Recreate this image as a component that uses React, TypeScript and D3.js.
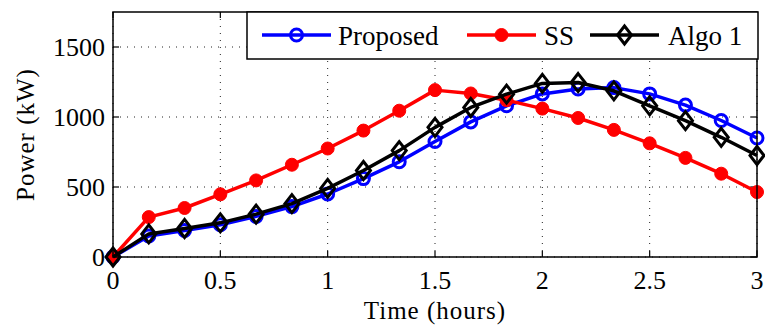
import { useEffect, useRef } from 'react';
import * as d3 from 'd3';

// time in hours, one sample every 10 minutes
const hours = [0, 1 / 6, 2 / 6, 3 / 6, 4 / 6, 5 / 6, 1, 7 / 6, 8 / 6, 9 / 6, 10 / 6, 11 / 6, 2, 13 / 6, 14 / 6, 15 / 6, 16 / 6, 17 / 6, 3];
const proposed = [0, 150, 190, 230, 290, 360, 450, 560, 680, 825, 965, 1080, 1165, 1200, 1210, 1165, 1085, 975, 850];
const ss = [0, 285, 350, 448, 547, 659, 775, 903, 1045, 1192, 1168, 1120, 1060, 993, 908, 812, 708, 595, 464];
const algo1 = [0, 165, 204, 244, 306, 381, 490, 618, 760, 926, 1068, 1163, 1240, 1246, 1187, 1080, 974, 855, 725];

const xTicks = [0, 0.5, 1, 1.5, 2, 2.5, 3];
const yTicks = [0, 500, 1000, 1500];

const FONT = '"Liberation Serif", "Times New Roman", serif';

export default function App() {
  const svgRef = useRef<SVGSVGElement>(null);
  const width = 765;
  const height = 325;

  useEffect(() => {
    if (!svgRef.current) return;
    const svg = d3.select(svgRef.current);
    svg.selectAll('*').remove();

    const margin = { top: 12, right: 8, bottom: 68, left: 113 };
    const innerWidth = width - margin.left - margin.right;
    const innerHeight = height - margin.top - margin.bottom;

    const g = svg.append('g').attr('transform', `translate(${margin.left},${margin.top})`);

    const x = d3.scaleLinear().domain([0, 3]).range([0, innerWidth]);
    const y = d3.scaleLinear().domain([0, 1750]).range([innerHeight, 0]);

    // grid
    xTicks.forEach(t => {
      g.append('line')
        .attr('x1', x(t)).attr('x2', x(t))
        .attr('y1', 0).attr('y2', innerHeight)
        .attr('stroke', '#222').attr('stroke-width', 1)
        .attr('stroke-dasharray', '1,6');
    });
    yTicks.forEach(t => {
      g.append('line')
        .attr('x1', 0).attr('x2', innerWidth)
        .attr('y1', y(t)).attr('y2', y(t))
        .attr('stroke', '#222').attr('stroke-width', 1)
        .attr('stroke-dasharray', '1,6');
    });

    // ticks (inside, on all four sides)
    const tl = 6;
    xTicks.forEach(t => {
      g.append('line').attr('x1', x(t)).attr('x2', x(t)).attr('y1', innerHeight).attr('y2', innerHeight - tl).attr('stroke', '#000').attr('stroke-width', 1.2);
      g.append('line').attr('x1', x(t)).attr('x2', x(t)).attr('y1', 0).attr('y2', tl).attr('stroke', '#000').attr('stroke-width', 1.2);
    });
    yTicks.forEach(t => {
      g.append('line').attr('x1', 0).attr('x2', tl).attr('y1', y(t)).attr('y2', y(t)).attr('stroke', '#000').attr('stroke-width', 1.2);
      g.append('line').attr('x1', innerWidth).attr('x2', innerWidth - tl).attr('y1', y(t)).attr('y2', y(t)).attr('stroke', '#000').attr('stroke-width', 1.2);
    });

    // tick labels
    g.selectAll('.xtl')
      .data(xTicks)
      .join('text')
      .attr('x', d => x(d))
      .attr('y', innerHeight + 32)
      .attr('text-anchor', 'middle')
      .attr('font-family', FONT)
      .attr('font-size', '26px')
      .attr('fill', '#000')
      .text(d => `${d}`);

    g.selectAll('.ytl')
      .data(yTicks)
      .join('text')
      .attr('x', -8)
      .attr('y', d => y(d) + 9)
      .attr('text-anchor', 'end')
      .attr('font-family', FONT)
      .attr('font-size', '26px')
      .attr('fill', '#000')
      .text(d => `${d}`);

    const series = [
      { name: 'Proposed', values: proposed, color: '#0000ff', marker: 'circle' },
      { name: 'SS', values: ss, color: '#ff0000', marker: 'dot' },
      { name: 'Algo 1', values: algo1, color: '#000000', marker: 'diamond' },
    ];

    const line = d3.line<number>()
      .x((_, i) => x(hours[i]))
      .y(d => y(d));

    const drawMarker = (sel: any, kind: string, color: string, cx: number, cy: number) => {
      if (kind === 'circle') {
        sel.append('circle').attr('cx', cx).attr('cy', cy).attr('r', 6)
          .attr('fill', 'none').attr('stroke', color).attr('stroke-width', 3);
      } else if (kind === 'dot') {
        sel.append('circle').attr('cx', cx).attr('cy', cy).attr('r', 6.5)
          .attr('fill', color).attr('stroke', color).attr('stroke-width', 1);
      } else {
        sel.append('path')
          .attr('d', `M${cx},${cy - 9}L${cx + 7},${cy}L${cx},${cy + 9}L${cx - 7},${cy}Z`)
          .attr('fill', 'none').attr('stroke', color).attr('stroke-width', 3);
      }
    };

    series.forEach(s => {
      const sg = g.append('g');
      sg.append('path')
        .datum(s.values)
        .attr('d', line)
        .attr('fill', 'none')
        .attr('stroke', s.color)
        .attr('stroke-width', 3.5)
        .attr('stroke-linejoin', 'round');
      s.values.forEach((v, i) => drawMarker(sg, s.marker, s.color, x(hours[i]), y(v)));
    });

    // axes box
    g.append('rect')
      .attr('x', 0).attr('y', 0)
      .attr('width', innerWidth).attr('height', innerHeight)
      .attr('fill', 'none').attr('stroke', '#000').attr('stroke-width', 1.5);

    // legend
    const lg = svg.append('g');
    lg.append('rect')
      .attr('x', 247).attr('y', 12)
      .attr('width', 511).attr('height', 47)
      .attr('fill', '#fff').attr('stroke', '#000').attr('stroke-width', 1.5);
    const items = [
      { x0: 262, text: 338 },
      { x0: 467, text: 544 },
      { x0: 590, text: 668 },
    ];
    series.forEach((s, i) => {
      const it = items[i];
      const ly = 35;
      lg.append('line')
        .attr('x1', it.x0).attr('x2', it.x0 + 69)
        .attr('y1', ly).attr('y2', ly)
        .attr('stroke', s.color).attr('stroke-width', 3.5);
      drawMarker(lg, s.marker, s.color, it.x0 + 34.5, ly);
      lg.append('text')
        .attr('x', it.text)
        .attr('y', ly + 10)
        .attr('font-family', FONT)
        .attr('font-size', '27px')
        .attr('fill', '#000')
        .text(s.name);
    });

    // axis labels
    svg.append('text')
      .attr('x', margin.left + x(1.5))
      .attr('y', 319)
      .attr('text-anchor', 'middle')
      .attr('font-family', FONT)
      .attr('font-size', '25px')
      .attr('letter-spacing', '1px')
      .attr('fill', '#000')
      .text('Time (hours)');

    svg.append('text')
      .attr('transform', `translate(34,${margin.top + innerHeight / 2}) rotate(-90)`)
      .attr('text-anchor', 'middle')
      .attr('font-family', FONT)
      .attr('font-size', '25px')
      .attr('letter-spacing', '1px')
      .attr('fill', '#000')
      .text('Power (kW)');
  }, []);

  return (
    <svg
      ref={svgRef}
      width={width}
      height={height}
      style={{ position: 'absolute', left: 0, top: 0, background: '#fff' }}
    />
  );
}
